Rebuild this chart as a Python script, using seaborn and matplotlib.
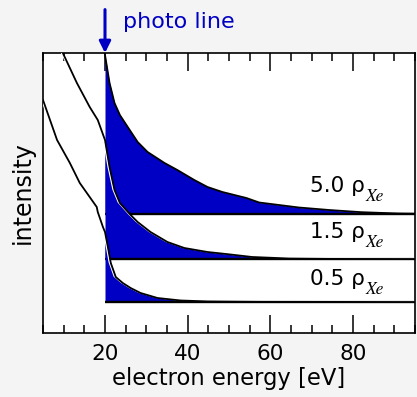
import numpy as np
import pandas as pd
import matplotlib
matplotlib.use("Agg")
import matplotlib.pyplot as plt
import matplotlib.patheffects as pe
from matplotlib.ticker import MultipleLocator, FixedLocator
import seaborn as sns

# ---- data ----
densities = ["5.0", "1.5", "0.5"]
offsets = [119, 74, 31]

energy_50 = [5, 15, 19.0, 20.0, 21.1, 22.3, 23.6, 25.5, 27.9, 30.3, 34.4, 37.5,
             41.6, 44.8, 48.4, 54.2, 57.3, 62.1, 66.9, 74.2, 82.1, 91, 95]
intensity_50 = [500, 320, 220, 159, 131, 111, 99, 87, 72, 62, 51, 44,
                34, 27, 22, 16, 11.5, 9, 6.5, 4, 1.8, 0.5, 0.3]

energy_15 = [5, 9.8, 13.2, 16.3, 18.25, 20.0, 21.1, 22.3, 23.6, 26.2, 27.9, 31.0,
             35.1, 39.2, 44.8, 49.3, 55.6, 64.5, 74, 95]
intensity_15 = [250, 206, 176, 152, 139, 119, 92, 69, 56, 44, 37, 27,
                17, 11, 7, 5, 2, 0.5, 0.1, 0]

energy_05 = [5.0, 8.4, 11.5, 13.9, 18.0, 18.25, 19.5, 20.0, 20.7, 21.4, 22.6, 24.3,
             26.2, 28.6, 32.7, 38.3, 44.8, 57.3, 95]
intensity_05 = [202, 162, 139, 119, 95, 90, 75, 70, 55, 39, 25, 19,
                14, 9, 4, 1.5, 0.6, 0.2, 0]

photo_line_energy = 20
major_ticks = [20, 40, 60, 80]

series = [(energy_50, intensity_50), (energy_15, intensity_15), (energy_05, intensity_05)]

BLUE = "#0000c4"
BG = "#f4f4f4"

sns.set_theme(style="white")
plt.rcParams["font.family"] = ["DejaVu Sans"]

fig = plt.figure(figsize=(4.17, 3.97), dpi=100, facecolor=BG)
ax = fig.add_axes([43 / 417, 64 / 397, 372 / 417, 280 / 397])
ax.set_facecolor("white")

z = 1
for i, ((e, inten), off) in enumerate(zip(series, offsets)):
    e = np.asarray(e, float)
    y = np.asarray(inten, float) + off
    m = e >= photo_line_energy
    ax.fill_between(e[m], off, y[m], color=BLUE, lw=0, zorder=z)
    ax.hlines(off, photo_line_energy, 95, color="black", lw=1.7, zorder=z + 1)
    df = pd.DataFrame({"energy": e, "intensity": y})
    sns.lineplot(data=df, x="energy", y="intensity", ax=ax, color="black",
                 lw=1.3, sort=False, estimator=None, zorder=z + 2)
    ax.lines[-1].set_solid_joinstyle("round")
    if i > 0:
        ax.lines[-1].set_path_effects([
            pe.Stroke(linewidth=1.2, foreground="white", offset=(-1.0, 0.5)),
            pe.Normal()])
    z += 3

ax.set_xlim(5, 95)
ax.set_ylim(0, 280)
ax.set_yticks([])
ax.xaxis.set_major_locator(FixedLocator(major_ticks))
ax.xaxis.set_minor_locator(MultipleLocator(5))
ax.tick_params(axis="x", which="both", direction="in", top=True, bottom=True,
               colors="black", labelsize=15.5, pad=8)
ax.tick_params(axis="x", which="major", length=13, width=1.1)
ax.tick_params(axis="x", which="minor", length=6, width=1.1)
for s in ax.spines.values():
    s.set_visible(True)
    s.set_color("black")
    s.set_linewidth(1.2)

ax.set_xlabel("electron energy [eV]", fontsize=16.3, labelpad=2, color="black")
ax.set_ylabel("intensity", fontsize=17, labelpad=6, color="black")

label_y = [141, 95, 48]
for d, ly in zip(densities, label_y):
    t = ax.text(69.5, ly, d + " ρ", fontsize=15.5, color="black",
                ha="left", va="baseline", zorder=20)
    ax.annotate("Xe", xy=(1, 0), xycoords=t, xytext=(1, -5),
                textcoords="offset pixels", fontsize=12.5, family="STIXGeneral",
                style="italic", color="black", ha="left", va="baseline", zorder=20)

ax.annotate("", xy=(photo_line_energy, 1.0), xycoords=("data", "axes fraction"),
            xytext=(photo_line_energy, 1.155), textcoords=("data", "axes fraction"),
            arrowprops=dict(arrowstyle="-|>", color=BLUE, lw=2.2, mutation_scale=17,
                            shrinkA=0, shrinkB=0),
            annotation_clip=False)
ax.text(24.3, 1.089, "photo line", transform=ax.get_xaxis_transform(),
        fontsize=16, color=BLUE, ha="left", va="baseline")

fig.savefig("out.png", dpi=100, facecolor=BG)
